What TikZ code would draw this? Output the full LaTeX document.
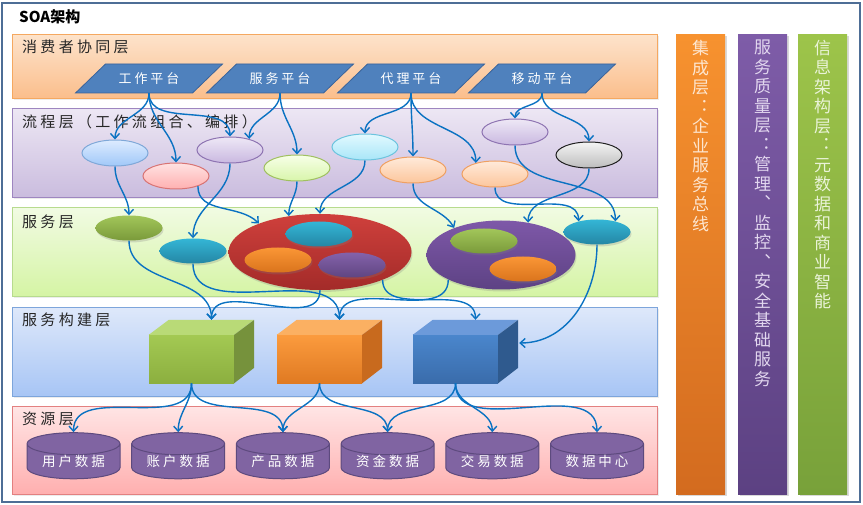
\documentclass[tikz,border=0pt]{standalone}
\usepackage{fontspec}
\newfontfamily\cjk{Noto Sans CJK SC}
\newfontfamily\cjkwide[LetterSpace=22]{Noto Sans CJK SC}
\usetikzlibrary{shapes.geometric,arrows.meta,shadows,positioning}

\definecolor{frameline}{HTML}{4E6E96}
\definecolor{constop}{HTML}{FDE3CB}
\definecolor{consbot}{HTML}{FBBE8C}
\definecolor{consline}{HTML}{F5A860}
\definecolor{proctop}{HTML}{EDE7F4}
\definecolor{procbot}{HTML}{CABCDE}
\definecolor{procline}{HTML}{9E86C0}
\definecolor{svctop}{HTML}{F1FBE3}
\definecolor{svcbot}{HTML}{D5F4A4}
\definecolor{svcline}{HTML}{B7DB8E}
\definecolor{bldtop}{HTML}{DEE8FA}
\definecolor{bldbot}{HTML}{A7C5F5}
\definecolor{bldline}{HTML}{7DA5DB}
\definecolor{restop}{HTML}{FFE5E5}
\definecolor{resbot}{HTML}{FFAFAF}
\definecolor{resline}{HTML}{E38080}
\definecolor{platfill}{HTML}{4F81BD}
\definecolor{platline}{HTML}{3A639A}
\definecolor{arrowblue}{HTML}{0A72C2}
\definecolor{cylfill}{HTML}{8064A2}
\definecolor{cylline}{HTML}{5D4A7E}
% side columns
\definecolor{inttop}{HTML}{F7922F}
\definecolor{intbot}{HTML}{D36B1F}
\definecolor{inttext}{HTML}{FDE6D0}
\definecolor{qostop}{HTML}{7E5CA8}
\definecolor{qosbot}{HTML}{5C4182}
\definecolor{qostext}{HTML}{E2D7EF}
\definecolor{inftop}{HTML}{9DC44A}
\definecolor{infbot}{HTML}{78A13A}
\definecolor{inftext}{HTML}{EAF3D8}
% process bubbles
\definecolor{bluet}{HTML}{DDEBFF}
\definecolor{blueb}{HTML}{A0C8F8}
\definecolor{bluel}{HTML}{7FA8D8}
\definecolor{pinkt}{HTML}{FFE2E2}
\definecolor{pinkb}{HTML}{FFB0B0}
\definecolor{pinkl}{HTML}{D87474}
\definecolor{lilat}{HTML}{EEE8F6}
\definecolor{lilab}{HTML}{C9B8E0}
\definecolor{lilal}{HTML}{8E74B2}
\definecolor{limet}{HTML}{F7FFE8}
\definecolor{limeb}{HTML}{D8F5AA}
\definecolor{limel}{HTML}{A0C060}
\definecolor{cyant}{HTML}{E2F9FF}
\definecolor{cyanb}{HTML}{A8E6F8}
\definecolor{cyanl}{HTML}{6CC4DE}
\definecolor{peacht}{HTML}{FFEADA}
\definecolor{peachb}{HTML}{FCC69C}
\definecolor{peachl}{HTML}{EFA062}
\definecolor{greyt}{HTML}{F4F4F4}
\definecolor{greyb}{HTML}{BDBDBD}
\definecolor{greyl}{HTML}{202020}
% service bubbles
\definecolor{olivet}{HTML}{A2C65A}
\definecolor{oliveb}{HTML}{7A9A3A}
\definecolor{tealt}{HTML}{34B6D6}
\definecolor{tealb}{HTML}{2486A4}
\definecolor{oranget}{HTML}{FA9636}
\definecolor{orangeb}{HTML}{DA741C}
\definecolor{violt}{HTML}{8462AA}
\definecolor{violb}{HTML}{5F4581}
\definecolor{redt}{HTML}{CF403C}
\definecolor{redb}{HTML}{A32B29}
\definecolor{bigvt}{HTML}{7E58A8}
\definecolor{bigvb}{HTML}{5D4284}
% blocks
\definecolor{gfrt}{HTML}{A3C953}
\definecolor{gfrb}{HTML}{8CAF3F}
\definecolor{gtop}{HTML}{B9DA77}
\definecolor{gside}{HTML}{76923C}
\definecolor{ofrt}{HTML}{FB9B3E}
\definecolor{ofrb}{HTML}{E07A22}
\definecolor{otop}{HTML}{FBB062}
\definecolor{oside}{HTML}{C86A1E}
\definecolor{bfrt}{HTML}{4A86CC}
\definecolor{bfrb}{HTML}{3A6CAB}
\definecolor{btop}{HTML}{6C9ADA}
\definecolor{bside}{HTML}{2F5A8E}

\tikzset{
  layer/.style={draw=#1line, top color=#1top, bottom color=#1bot,
    anchor=north west, minimum width=645pt, inner sep=0pt, line width=0.8pt,
    drop shadow={opacity=0.15, shadow xshift=1.5pt, shadow yshift=-1.5pt}},
  lbl/.style={anchor=west, inner sep=0pt, text=black!85,
    font={\cjkwide\fontsize{15}{18}\selectfont}},
  platshape/.style={fill=platfill, draw=platline, line width=0.8pt},
  platform/.style={minimum width=117pt, minimum height=29pt, inner sep=0pt,
    text=white, font={\cjkwide\fontsize{13}{15}\selectfont}},
  bub/.style={ellipse, minimum width=66pt, minimum height=26pt,
    inner sep=0pt, top color=#1t, bottom color=#1b, draw=#1l, line width=1pt},
  svcbub/.style={ellipse, minimum width=67pt, minimum height=25pt,
    inner sep=0pt, top color=#1t, bottom color=#1b,
    drop shadow={opacity=0.25, shadow xshift=1pt, shadow yshift=-2pt}},
  front/.style={minimum width=85pt, minimum height=48pt, inner sep=0pt,
    top color=#1frt, bottom color=#1frb},
  datastore/.style={cylinder, shape border rotate=90, aspect=0.35,
    minimum width=93pt, minimum height=43pt, inner sep=0pt,
    cylinder uses custom fill, cylinder body fill=cylfill, cylinder end fill=cylfill,
    draw=cylline, line width=1pt, text=white,
    font={\cjkwide\fontsize{13.5}{15}\selectfont}},
  colbar/.style={anchor=north west, minimum width=49pt, minimum height=460pt,
    inner sep=0pt, top color=#1top, bottom color=#1bot,
    drop shadow={opacity=0.3, shadow xshift=2pt, shadow yshift=-2pt}},
  coltext/.style={anchor=north, align=center, inner sep=0pt, text width=20pt,
    text=#1text, font={\cjk\fontsize{17}{19.5}\selectfont}},
  conn/.style={draw=arrowblue, line width=1.4pt,
    -{Straight Barb[length=5pt,width=9pt,line width=1.4pt]}},
}

\begin{document}
\begin{tikzpicture}[x=1pt,y=-1pt]
    \useasboundingbox (0,0) rectangle (863,505);
    \draw[frameline, line width=2pt] (2,3) rectangle (860,502);
    \node[anchor=west, inner sep=0pt, font={\cjk\bfseries\fontsize{15}{15}\selectfont}] (title) at (19,17) {SOA架构};

    % layers
    \node[layer=cons, minimum height=64pt] (cons) at (12,34) {};
    \node[layer=proc, minimum height=89pt] (proc) at (12,108) {};
    \node[layer=svc, minimum height=89pt] (svc) at (12,207) {};
    \node[layer=bld, minimum height=89pt] (bld) at (12,307) {};
    \node[layer=res, minimum height=88pt] (res) at (12,406) {};
    \node[lbl] (lcons) at (22,47) {消费者协同层};
    \node[lbl] (lproc) at (22,122) {流程层（工作流组合、编排）};
    \node[lbl] (lsvc) at (22,222) {服务层};
    \node[lbl] (lbld) at (22,320) {服务构建层};
    \node[lbl] (lres) at (22,419) {资源层};

    % side columns
    \node[colbar=int] (colint) at (676,34) {};
    \node[colbar=qos] (colqos) at (738,34) {};
    \node[colbar=inf] (colinfo) at (798,34) {};

    % platforms
    \foreach \nm/\txt [count=\k from 0] in {work/工作平台,service/服务平台,agent/代理平台,mobile/移动平台} {
        \filldraw[platshape] ({75.5+131*\k},93) -- ++(117,0) -- ++(30,-29) -- ++(-117,0) -- cycle;
        \node[platform] (\nm) at ({149+131*\k},78.5) {\txt};
    }

    % process ellipses
    \node[bub=blue] (proc1) at (115,153) {};
    \node[bub=pink] (proc2) at (176,176) {};
    \node[bub=lila] (proc3) at (230,150) {};
    \node[bub=lime] (proc4) at (297,168) {};
    \node[bub=cyan] (proc5) at (365,147) {};
    \node[bub=peach] (proc6) at (413,170) {};
    \node[bub=peach] (proc7) at (495,174) {};
    \node[bub=lila] (proc8) at (515,132) {};
    \node[bub=grey] (proc9) at (589,155) {};

    % service ellipses
    \node[svcbub=olive] (svc1) at (129,228) {};
    \node[svcbub=teal] (svc2) at (193,251) {};
    \node[svcbub=red, minimum width=183pt, minimum height=76pt] (svcred) at (320,252) {};
    \node[svcbub=teal] (red1) at (319,234) {};
    \node[svcbub=orange] (red2) at (278,260) {};
    \node[svcbub=viol] (red3) at (352,265) {};
    \node[svcbub=bigv, minimum width=149pt, minimum height=69pt] (svcpur) at (501,255) {};
    \node[svcbub=olive] (pur1) at (484,241) {};
    \node[svcbub=orange] (pur2) at (523,269) {};
    \node[svcbub=teal] (svc3) at (597,232) {};

    % building blocks
    \node[front=g] (cb1) at (191.5,359) {};
    \node[front=o] (cb2) at (319.5,359) {};
    \node[front=b] (cb3) at (455.5,359) {};
    \foreach \c/\k in {cb1/g,cb2/o,cb3/b} {
        \fill[\k top] (\c.north west) -- ++(20,-15) -- ++(85,0) -- (\c.north east) -- cycle;
        \fill[\k side] (\c.north east) -- ++(20,-15) -- ++(0,48) -- (\c.south east) -- cycle;
    }

    % data stores
    \foreach \txt [count=\i] in {用户数据,账户数据,产品数据,资金数据,交易数据,数据中心}
        \node[datastore] (db\i) at ({73.5+104.7*(\i-1)},461.5) {\raisebox{-3pt}{\txt}};

    % column texts
    \node[coltext=int, below=6pt of colint.north]
        {集\\成\\层\\︓\\企\\业\\服\\务\\总\\线};
    \node[coltext=qos, below=6pt of colqos.north]
        {服\\务\\质\\量\\层\\︓\\管\\理\\︑\\监\\控\\︑\\安\\全\\基\\础\\服\\务};
    \node[coltext=inf, below=6pt of colinfo.north]
        {信\\息\\架\\构\\层\\︓\\元\\数\\据\\和\\商\\业\\智\\能};

    % platforms -> process
    \draw[conn] (work.south) to[out=-90,in=90] (proc1.north);
    \draw[conn] (work.south) to[out=-90,in=90] (proc2.north);
    \draw[conn] (work.south) to[out=-90,in=90] (proc3.north);
    \draw[conn] (service.south) to[out=-90,in=90] (proc3.30);
    \draw[conn] (service.south) to[out=-90,in=90] (proc4.north);
    \draw[conn] (agent.south) to[out=-90,in=90] (proc5.north);
    \draw[conn] (agent.south) to[out=-90,in=90] (proc6.north);
    \draw[conn] (agent.south) to[out=-90,in=90] (proc7.150);
    \draw[conn] (mobile.south) to[out=-90,in=90] (proc8.north);
    \draw[conn] (mobile.south) to[out=-90,in=90] (proc9.north);

    % process -> services
    \draw[conn] (proc1.south) to[out=-90,in=90] (svc1.north);
    \draw[conn] (proc3.south) to[out=-90,in=90] (svc2.north);
    \draw[conn] (proc2.-25) to[out=-90,in=135] (svcred.155);
    \draw[conn] (proc4.south) to[out=-90,in=90] (svcred.131);
    \draw[conn] (proc5.south) to[out=-90,in=90] (svcred.north);
    \draw[conn] (proc6.south) to[out=-90,in=120] (svcpur.150);
    \draw[conn] (proc7.south) to[out=-90,in=90] (svc3.150);
    \draw[conn] (proc9.south) to[out=-90,in=90] (svcpur.50);
    \draw[conn] (proc8.south) to[out=-90,in=90] (svc3.30);

    % services -> building blocks
    \draw[conn] (svc1.south) to[out=-90,in=90] ([xshift=20pt,yshift=15pt]cb1.north);
    \draw[conn] (svcred.south) to[out=-90,in=90] ([xshift=20pt,yshift=15pt]cb1.north);
    \draw[conn] (svc2.south) to[out=-90,in=90] ([xshift=20pt,yshift=15pt]cb2.north);
    \draw[conn] (svcpur.205) to[out=-90,in=90] ([xshift=20pt,yshift=15pt]cb2.north);
    \draw[conn] (svcred.-24) to[out=-90,in=90] ([xshift=20pt,yshift=15pt]cb3.north);
    \draw[conn] (svc3.south) to[out=-90,in=0] ([xshift=21pt,yshift=16pt]cb3.east);

    % building blocks -> data
    \draw[conn] (cb1.south) to[out=-90,in=90] (db1.north);
    \draw[conn] (cb1.south) to[out=-90,in=90] (db2.north);
    \draw[conn] (cb1.south) to[out=-90,in=90] (db3.north);
    \draw[conn] (cb2.south) to[out=-90,in=90] (db3.north);
    \draw[conn] (cb2.south) to[out=-90,in=90] (db4.north);
    \draw[conn] (cb3.south) to[out=-90,in=90] (db4.north);
    \draw[conn] (cb3.south) to[out=-90,in=90] (db5.north);
    \draw[conn] (cb3.south) to[out=-90,in=90] (db6.north);
\end{tikzpicture}
\end{document}
